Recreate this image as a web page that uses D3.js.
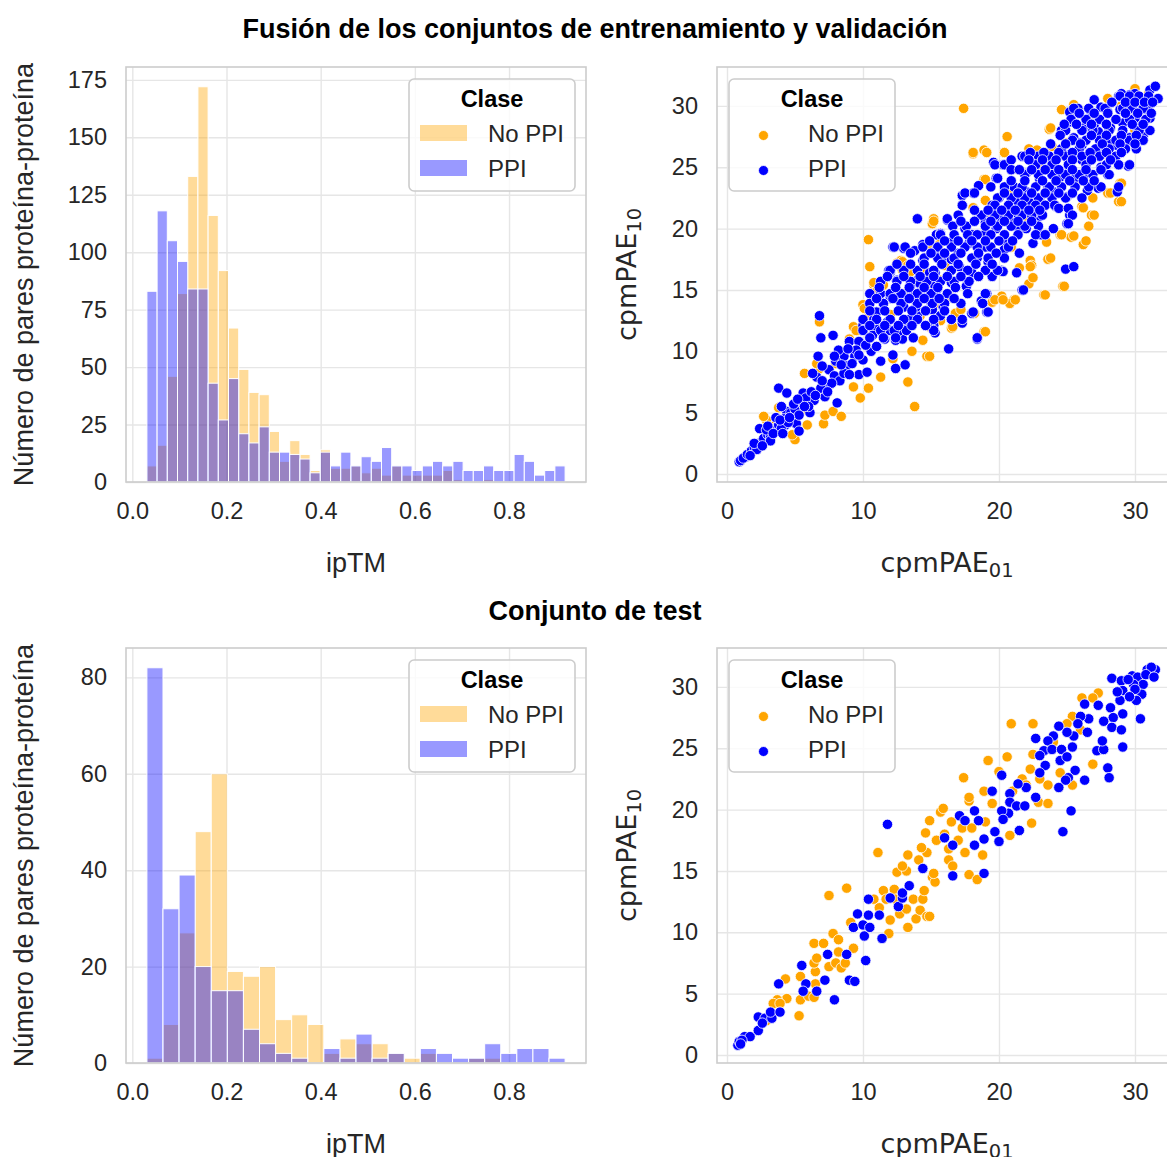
<!DOCTYPE html>
<html lang="es">
<head>
    <meta charset="UTF-8">
    <title>ipTM y cpmPAE por clase</title>
    <script src="https://d3js.org/d3.v7.min.js"></script>
    <style>
        body {
            margin: 0;
            background: #fff;
        }
        svg {
            display: block;
            font-family: "Liberation Sans", Arial, sans-serif;
        }
        .grid line {
            stroke: #e6e6e6;
            stroke-width: 1.4;
        }
        .grid text {
            font-size: 23.5px;
            fill: #262626;
        }
        .frame {
            fill: none;
            stroke: #cccccc;
            stroke-width: 1.6;
        }
        .axis-label {
            font-size: 27px;
            fill: #262626;
        }
        .math-label {
            font-family: "DejaVu Sans", sans-serif;
            font-size: 27px;
            fill: #262626;
        }
        .suptitle {
            font-size: 27px;
            font-weight: bold;
            fill: #000;
        }
        .legend-title {
            font-size: 23.5px;
            font-weight: bold;
            fill: #000;
        }
        .legend-label {
            font-size: 24px;
            fill: #262626;
        }
    </style>
</head>
<body>
<svg id="chart" width="1167" height="1157"></svg>
<script>
    // Classes
    const classes = ["No PPI", "PPI"];
    const classColors = { "No PPI": "#ffa500", "PPI": "#0000ff" };

    // Histogram bins (ipTM)
    const trainBinRange = [0.031, 0.919];
    const trainBinCount = 41;
    const testBinRange = [0.031, 0.919];
    const testBinCount = 26;

    // Counts per bin, training + validation set
    const trainNoPPI = [7, 16, 46, 82, 133, 172, 116, 92, 67, 49, 39, 38, 22, 9, 18, 12, 5, 14, 6, 6,
        7, 4, 6, 3, 7, 3, 3, 3, 3, 5, 1, 0, 0, 1, 0, 0, 0, 0, 0, 0, 0];
    const trainPPI = [83, 118, 105, 96, 84, 84, 43, 27, 45, 21, 17, 24, 13, 13, 12, 10, 4, 13, 7, 13,
        7, 11, 9, 15, 7, 7, 5, 7, 9, 7, 9, 5, 5, 7, 5, 5, 12, 9, 3, 5, 7];

    // Counts per bin, test set
    const testNoPPI = [1, 8, 27, 48, 60, 19, 18, 20, 9, 10, 8, 2, 5, 4, 4, 2, 1, 2, 0, 0, 1, 1, 0, 0, 0, 0];
    const testPPI = [82, 32, 39, 20, 15, 15, 7, 4, 2, 1, 0, 3, 1, 6, 1, 2, 0, 3, 2, 1, 1, 4, 2, 3, 3, 1];

    // Tick values
    const histXTicks = [0.0, 0.2, 0.4, 0.6, 0.8];
    const trainHistYTicks = [0, 25, 50, 75, 100, 125, 150, 175];
    const testHistYTicks = [0, 20, 40, 60, 80];
    const paeTicksX = [0, 10, 20, 30];
    const paeTicksY = [0, 5, 10, 15, 20, 25, 30];

    // cpmPAE01, cpmPAE10 pairs, training + validation set
    const trainScatterNoPPI = [
        [10.5, 16.9], [10.8, 15.4], [11.0, 14.9], [9.3, 12.0], [6.8, 12.4], [5.7, 8.2], [6.8, 8.6], [6.6, 9.0],
        [9.3, 7.1], [9.8, 6.2], [10.4, 7.0], [11.3, 7.9], [13.3, 7.5], [13.8, 5.5], [14.7, 9.6], [13.6, 10.0],
        [14.4, 10.9], [7.1, 4.1], [7.2, 4.8], [5.9, 4.0], [5.0, 2.8], [2.9, 4.4], [3.8, 5.4], [2.7, 4.7],
        [4.8, 3.2], [7.8, 5.1], [8.4, 4.7], [12.2, 9.4], [10.0, 13.8], [10.4, 13.0], [13.0, 14.7], [12.5, 17.2],
        [13.3, 17.0], [14.4, 16.5], [15.7, 15.8], [14.9, 12.0], [14.2, 12.9], [15.4, 13.9], [13.5, 16.5], [11.5, 15.4],
        [10.4, 19.1], [15.2, 20.8], [15.1, 20.4], [12.8, 17.4], [12.9, 16.6],
        [17.4, 29.8], [20.6, 27.5], [18.1, 26.1], [18.9, 26.4], [20.4, 26.2], [22.2, 26.5], [23.7, 28.1], [24.6, 29.7],
        [25.5, 30.1], [28.0, 30.6], [30.0, 31.4], [18.9, 24.0], [23.6, 17.5], [26.2, 18.7], [26.8, 21.1], [26.6, 20.2],
        [28.8, 22.2], [28.9, 23.7], [28.0, 22.9], [24.5, 19.5], [25.3, 19.3], [26.1, 21.8], [18.1, 21.7], [19.0, 22.3],
        [22.3, 17.4], [23.5, 18.9], [20.9, 18.5],
        [24.7, 15.3], [23.3, 14.6], [22.2, 15.5], [21.1, 14.2], [20.2, 14.5], [20.8, 13.9], [18.9, 11.6], [16.5, 11.9],
        [14.9, 9.6], [16.8, 13.1], [18.2, 13.1], [19.5, 14.0], [22.4, 17.0],
        [16.0, 17.0], [17.0, 19.0], [19.0, 21.0], [21.0, 23.0], [23.0, 25.0], [25.0, 27.0], [27.0, 29.0], [29.0, 30.0],
        [20.0, 19.0], [22.0, 21.0], [24.0, 22.0], [26.0, 24.0], [28.0, 26.0], [30.0, 28.0], [31.0, 31.0], [8.0, 9.0],
        [9.0, 11.0], [11.0, 12.0], [12.0, 13.0], [6.0, 6.0], [3.5, 3.9], [4.5, 4.8], [5.5, 5.2],
        [23.8, 28.2], [18.1, 26.2], [19.1, 26.2], [20.4, 26.2], [19.0, 24.0], [15.2, 20.6], [12.9, 17.3], [13.3, 17.0],
        [14.9, 18.7], [15.6, 18.7], [10.8, 15.6], [10.1, 13.5], [16.6, 12.0], [19.0, 11.6], [19.7, 14.2], [20.3, 14.2],
        [21.2, 14.2], [23.4, 14.6], [24.8, 15.3], [23.8, 17.6], [22.5, 16.0], [22.3, 16.9], [21.5, 16.8], [26.4, 19.0],
        [27.0, 21.1], [26.2, 21.7], [24.6, 19.5], [25.5, 19.4], [28.2, 22.9], [29.0, 22.2], [29.0, 23.7], [26.9, 22.5],
        [14.7, 15.0], [15.6, 13.9], [16.5, 14.4], [17.2, 13.4], [15.7, 12.5], [9.5, 11.7], [10.5, 11.2], [22.8, 26.4],
        [23.9, 26.7], [28.9, 30.8]
    ];
    const trainScatterPPI = [
        [0.9, 1.0], [1.4, 1.4], [2.3, 2.4], [2.8, 3.0], [3.3, 3.7], [2.4, 3.7], [4.3, 4.0], [5.1, 4.1], [5.3, 3.5],
        [3.8, 7.0], [4.4, 6.6], [5.6, 6.6], [6.4, 6.0], [5.3, 5.5], [6.1, 5.0], [4.4, 5.1], [6.6, 7.9], [6.8, 12.9],
        [6.9, 11.1], [7.8, 11.3], [6.7, 9.6], [7.3, 7.1], [8.1, 5.8], [7.2, 6.3], [8.6, 9.6], [8.8, 8.8], [9.0, 10.8],
        [9.7, 10.8], [8.2, 10.1], [9.4, 9.6], [9.7, 8.1], [10.3, 8.3], [10.6, 10.0], [11.3, 9.2], [11.6, 11.0],
        [12.4, 10.9], [12.2, 9.7], [12.4, 8.6], [13.1, 8.9], [10.0, 12.1], [10.8, 12.6], [11.1, 11.8], [12.0, 11.7],
        [12.9, 11.0], [13.1, 11.9], [11.0, 13.2], [11.3, 14.7], [12.0, 14.3], [12.7, 14.5], [13.5, 15.0], [14.0, 15.8],
        [14.7, 16.0], [13.8, 13.4], [14.0, 12.9], [15.1, 13.4], [15.2, 12.1], [15.3, 11.5], [12.0, 16.4], [11.9, 16.6],
        [14.9, 16.4], [9.5, 10.1], [12.5, 15.8], [13.5, 15.3], [14.2, 15.5], [15.4, 15.0], [14.0, 14.0], [15.7, 12.9],
        [13.0, 13.6], [11.5, 13.9],
        [1.0, 1.1], [1.2, 1.3], [1.5, 1.6], [1.8, 1.9], [2.0, 2.2], [2.2, 2.0], [2.5, 2.6], [2.7, 2.9], [3.0, 3.2],
        [3.2, 3.0], [3.5, 3.6], [3.8, 4.0], [4.0, 3.7], [4.2, 4.5], [4.5, 4.2], [4.7, 5.0], [5.0, 5.3], [5.3, 4.8],
        [5.5, 5.8], [5.8, 6.2], [6.0, 5.5], [6.2, 6.7], [4.0, 5.5], [3.6, 4.6], [2.9, 3.6], [3.2, 2.7], [1.7, 1.5],
        [7.5, 8.5], [7.9, 8.0], [8.3, 7.6], [7.0, 8.8], [8.0, 9.2], [8.6, 8.2], [7.7, 7.4], [6.9, 7.0], [9.2, 9.0],
        [10.0, 9.3],
        [2.0, 2.5], [2.6, 2.3], [3.0, 3.9], [3.4, 3.3], [3.9, 4.4], [4.1, 3.3], [4.6, 4.6], [4.9, 5.7], [5.2, 6.1],
        [5.7, 5.5], [6.5, 6.4], [7.0, 7.6], [7.4, 6.7], [6.3, 8.2], [7.9, 9.6], [8.4, 8.9], [9.0, 8.1], [9.7, 9.7],
        [8.9, 10.2], [10.2, 10.5], [11.0, 10.4], [10.7, 11.3], [11.8, 12.4], [12.6, 11.6], [13.4, 12.6], [13.9, 13.6],
        [14.6, 14.4], [15.0, 14.0], [14.2, 14.8],
        [14.0, 20.8], [12.2, 18.5], [13.0, 18.4], [13.8, 18.2], [14.4, 18.7], [11.9, 16.3], [14.4, 17.4], [15.4, 19.5],
        [15.4, 18.3],
        [24.9, 16.7], [25.5, 16.9], [17.3, 22.7], [18.1, 22.9], [17.3, 21.9], [19.6, 25.4], [20.3, 25.2], [21.7, 25.9],
        [22.6, 25.5], [19.8, 24.1], [19.5, 21.9], [18.8, 21.0], [16.2, 20.7], [15.7, 19.6], [16.5, 18.9], [17.8, 18.8],
        [19.0, 19.6], [19.8, 20.0], [20.4, 18.3], [21.3, 16.4], [20.2, 16.6], [17.9, 16.5], [22.5, 18.8], [23.1, 19.5],
        [25.0, 20.4], [25.2, 21.1], [24.2, 21.8], [22.3, 22.1], [21.3, 22.3], [20.6, 21.3], [21.5, 19.9], [23.6, 23.4],
        [24.5, 24.2], [25.5, 24.0], [26.3, 24.4], [27.3, 23.3], [28.0, 24.4], [28.7, 23.0], [29.5, 25.1], [26.1, 25.6],
        [27.2, 26.4], [28.6, 26.8], [29.6, 27.4], [30.6, 27.5], [30.1, 28.3], [31.1, 29.0], [30.6, 30.5], [31.1, 31.3],
        [31.5, 31.6], [31.7, 30.6], [29.6, 30.9], [28.8, 30.8], [27.5, 29.9], [26.8, 29.4], [25.2, 29.5], [25.2, 28.7],
        [24.6, 28.0], [26.2, 28.2], [28.2, 28.2], [28.9, 29.7], [29.6, 29.7], [26.1, 26.8], [25.5, 27.4], [24.6, 26.5],
        [23.5, 25.9], [27.7, 27.6], [29.1, 28.6], [30.6, 29.7], [25.2, 24.8], [23.5, 24.8], [25.0, 22.6], [26.5, 23.1],
        [28.8, 25.2], [27.3, 27.9], [21.1, 23.4], [21.4, 21.1], [22.6, 21.2], [23.0, 22.5], [18.4, 17.6], [17.1, 16.9],
        [15.8, 17.4], [15.3, 16.4], [19.2, 17.3],
        [21.7, 15.0], [18.7, 14.1], [19.1, 13.2], [18.0, 13.1], [18.4, 11.0], [16.3, 10.2], [17.3, 12.3], [15.2, 12.1],
        [15.9, 13.6], [15.3, 15.3], [19.1, 14.7], [19.5, 16.1], [20.3, 16.5], [16.5, 15.6], [17.6, 15.3], [18.0, 16.4],
        [17.0, 18.0], [18.0, 19.5], [19.0, 18.5], [20.0, 21.0], [21.0, 20.5], [22.0, 20.0], [22.0, 23.0], [23.0, 21.0],
        [24.0, 23.0], [24.0, 20.0], [19.0, 20.5], [17.5, 20.0], [16.5, 17.5], [20.5, 19.0], [21.5, 18.0], [23.0, 24.0],
        [22.0, 24.5], [20.0, 22.5], [18.5, 23.5], [25.0, 26.0], [26.0, 27.0], [27.0, 28.5], [28.0, 29.5], [29.0, 31.0],
        [30.0, 31.0], [26.5, 25.5], [27.5, 25.0], [28.0, 27.0], [29.0, 27.5], [30.0, 29.0], [31.0, 30.0], [27.0, 30.5],
        [24.0, 25.0], [25.8, 29.8],
        [28.9, 30.8], [29.6, 30.8], [30.3, 30.8], [31.0, 30.8], [25.5, 29.8], [26.6, 29.8], [27.8, 29.8], [29.1, 29.8],
        [29.8, 29.8], [30.6, 29.8], [25.3, 28.9], [26.4, 28.9], [27.4, 28.9], [28.6, 28.9], [29.6, 28.9], [30.8, 28.9],
        [24.9, 28.0], [26.1, 28.0], [26.9, 28.0], [28.1, 28.0], [29.1, 28.0], [30.3, 28.0], [31.1, 28.0], [25.4, 27.2],
        [26.4, 27.2], [27.4, 27.2], [28.6, 27.2], [29.6, 27.2], [30.6, 27.2], [24.6, 26.5], [25.9, 26.5], [27.1, 26.5],
        [28.1, 26.5], [29.3, 26.5], [30.1, 26.5], [21.9, 25.9], [22.9, 25.9], [23.7, 25.9], [24.9, 25.9], [26.1, 25.9],
        [27.4, 25.9], [28.6, 25.9], [19.7, 25.2], [20.4, 25.2], [22.7, 25.2], [23.9, 25.2], [25.1, 25.2], [26.4, 25.2],
        [27.9, 25.2], [28.8, 25.2], [29.6, 25.2], [21.9, 24.4], [22.9, 24.4], [23.9, 24.4], [24.9, 24.4], [25.9, 24.4],
        [26.9, 24.4], [28.1, 24.4], [19.9, 24.1], [19.4, 23.4], [20.4, 23.4], [21.7, 23.4], [22.7, 23.4], [23.7, 23.4],
        [24.6, 23.4], [25.6, 23.4], [26.6, 23.4], [27.5, 23.4], [28.8, 23.4], [17.5, 22.9], [18.2, 22.9], [19.9, 22.5],
        [20.9, 22.5], [21.9, 22.5], [22.9, 22.5], [23.9, 22.5], [24.9, 22.5], [26.1, 22.5], [17.3, 21.9], [19.7, 21.9],
        [20.7, 21.9], [21.7, 21.9], [22.7, 21.9], [23.4, 21.9], [24.1, 21.9], [24.4, 21.65], [25.1, 21.65], [17.0, 21.1],
        [18.7, 21.1], [19.7, 21.1], [20.7, 21.1], [21.7, 21.1], [22.4, 21.1], [23.2, 21.1], [25.4, 21.1], [14.0, 20.8],
        [16.2, 20.8], [25.1, 20.4], [16.6, 20.2], [17.6, 20.2], [19.0, 20.2], [19.9, 20.2], [20.9, 20.2], [21.9, 20.2],
        [22.9, 20.2], [15.7, 19.5], [16.7, 19.5], [17.7, 19.5], [18.4, 19.5], [19.4, 19.5], [20.4, 19.5], [21.4, 19.5],
        [22.7, 19.5], [23.4, 19.5], [12.3, 18.5], [13.1, 18.5], [14.4, 18.5], [15.5, 18.5], [16.5, 18.5], [17.5, 18.5],
        [18.4, 18.5], [19.4, 18.5], [20.7, 18.5], [14.5, 17.6], [15.5, 17.6], [16.7, 17.6], [18.0, 17.6], [19.2, 17.6],
        [20.4, 17.6], [12.0, 16.6], [13.0, 16.6], [14.0, 16.6], [15.2, 16.6], [16.5, 16.6], [17.7, 16.6], [19.0, 16.6],
        [19.9, 16.6], [11.3, 15.7], [12.5, 15.7], [13.5, 15.7], [14.7, 15.7], [15.7, 15.7], [16.7, 15.7], [17.8, 15.7],
        [10.5, 14.7], [12.0, 14.7], [12.8, 14.7], [14.0, 14.7], [15.0, 14.7], [16.2, 14.7], [17.7, 14.7], [19.0, 14.7],
        [21.8, 15.0], [10.5, 13.9], [11.5, 13.9], [12.8, 13.9], [14.0, 13.9], [15.1, 13.9], [16.0, 13.9], [17.2, 13.9],
        [18.8, 13.9], [19.2, 13.2], [18.1, 13.2], [10.0, 12.6], [11.0, 12.6], [12.0, 12.6], [13.0, 12.6], [14.0, 12.6],
        [15.2, 12.6], [16.5, 12.6], [17.3, 12.6], [10.0, 11.7], [11.3, 11.7], [12.3, 11.7], [13.2, 11.7], [15.2, 11.7],
        [10.5, 11.1], [11.5, 11.1], [12.4, 11.1], [13.7, 11.1], [18.4, 11.1],
        [28.3, 30.3], [29.3, 30.3], [30.0, 30.3], [30.7, 30.3], [31.3, 30.3], [25.9, 29.4], [27.0, 29.4], [28.0, 29.4],
        [29.3, 29.4], [30.2, 29.4], [31.2, 29.4], [24.8, 28.5], [25.7, 28.5], [26.8, 28.5], [27.9, 28.5], [29.8, 28.5],
        [30.6, 28.5], [24.5, 27.6], [26.8, 27.6], [27.9, 27.6], [29.0, 27.6], [30.1, 27.6], [23.8, 26.9], [24.9, 26.9],
        [26.0, 26.9], [27.6, 26.9], [28.9, 26.9], [30.0, 26.9], [22.3, 26.2], [23.3, 26.2], [24.4, 26.2], [25.4, 26.2],
        [26.7, 26.2], [27.9, 26.2], [29.0, 26.2], [20.9, 25.6], [22.2, 25.6], [23.2, 25.6], [24.2, 25.6], [25.4, 25.6],
        [26.8, 25.6], [28.2, 25.6], [20.9, 24.8], [21.5, 24.8], [22.4, 24.8], [23.4, 24.8], [24.4, 24.8], [25.4, 24.8],
        [26.4, 24.8], [27.5, 24.8], [20.9, 23.9], [21.9, 23.9], [23.2, 23.9], [24.2, 23.9], [25.2, 23.9], [26.2, 23.9],
        [27.0, 23.9], [20.4, 22.9], [21.4, 22.9], [22.4, 22.9], [23.4, 22.9], [24.4, 22.9], [25.4, 22.9], [18.2, 21.5],
        [19.2, 21.5], [20.2, 21.5], [21.2, 21.5], [22.2, 21.5], [23.0, 21.5], [17.2, 20.6], [18.2, 20.6], [19.4, 20.6],
        [20.4, 20.6], [21.4, 20.6], [22.4, 20.6], [14.9, 19.0], [16.0, 19.0], [17.0, 19.0], [18.0, 19.0], [19.0, 19.0],
        [20.0, 19.0], [21.0, 19.0], [13.5, 18.0], [15.0, 18.0], [16.0, 18.0], [17.2, 18.0], [18.5, 18.0], [19.8, 18.0],
        [12.5, 17.1], [13.5, 17.1], [14.5, 17.1], [15.8, 17.1], [17.0, 17.1], [18.3, 17.1], [19.5, 17.1], [11.8, 16.1],
        [13.0, 16.1], [14.2, 16.1], [15.2, 16.1], [16.2, 16.1], [17.2, 16.1], [18.5, 16.1], [11.2, 15.2], [12.4, 15.2],
        [13.4, 15.2], [14.5, 15.2], [15.5, 15.2], [16.8, 15.2], [11.0, 14.3], [12.2, 14.3], [13.4, 14.3], [14.5, 14.3],
        [15.6, 14.3], [16.7, 14.3], [10.5, 13.3], [11.6, 13.3], [12.6, 13.3], [13.6, 13.3], [14.6, 13.3], [16.0, 13.3],
        [10.5, 12.1], [11.6, 12.1], [12.6, 12.1], [13.6, 12.1], [14.6, 12.1]
    ];

    // cpmPAE01, cpmPAE10 pairs, test set
    const testScatterNoPPI = [
        [7.5, 13.0], [8.8, 13.6], [11.1, 16.5], [5.3, 3.2], [4.3, 6.2], [4.4, 4.6], [3.7, 4.5], [3.4, 4.2], [5.4, 6.4],
        [5.4, 4.5], [6.0, 4.8], [6.4, 4.7], [6.5, 6.8], [6.4, 7.5], [6.6, 7.9], [6.4, 9.1], [7.1, 9.1], [7.8, 9.9],
        [8.2, 9.4], [8.2, 8.4], [7.5, 7.2], [8.0, 7.5], [8.4, 7.1], [8.7, 7.5], [6.5, 5.8], [9.3, 8.7], [9.1, 10.8],
        [10.8, 12.7], [11.2, 12.0], [11.5, 13.4], [11.7, 12.7], [12.3, 13.5], [12.0, 11.0], [11.9, 9.9], [12.4, 12.7],
        [12.7, 11.5], [13.2, 11.9], [13.3, 10.4], [13.7, 12.7], [13.9, 11.1], [14.2, 11.8], [14.4, 12.7], [14.7, 11.3],
        [14.5, 13.4], [12.5, 14.9], [13.2, 15.0], [12.9, 15.4], [13.3, 16.3], [14.1, 15.9], [14.7, 16.5], [14.3, 16.9],
        [14.6, 18.1], [14.9, 19.1], [15.4, 17.5], [15.7, 19.8], [15.1, 14.5], [15.3, 14.1], [2.9, 2.8], [3.9, 4.2],
        [20.9, 27.0], [22.5, 27.0], [26.1, 29.1], [27.3, 29.5], [25.4, 27.6], [26.9, 23.7], [20.6, 24.3], [19.2, 24.0],
        [17.4, 22.6], [20.0, 23.1], [22.3, 23.3], [23.6, 22.0], [25.4, 22.0], [22.4, 18.9], [20.8, 17.9], [22.9, 20.6],
        [23.6, 20.5], [18.9, 21.5], [17.8, 20.7], [15.9, 20.1], [16.3, 16.8], [16.3, 15.9], [16.6, 15.4], [17.3, 18.5],
        [17.8, 14.7], [18.4, 14.3], [18.8, 16.3], [14.9, 11.3], [15.2, 14.8], [17.8, 21.0], [21.7, 22.5], [26.9, 29.1],
        [16.5, 19.0], [17.0, 17.5], [18.0, 18.5], [19.0, 19.0], [19.5, 20.5], [16.0, 18.0], [17.5, 16.5], [21.0, 21.5],
        [22.0, 22.0], [23.0, 22.5], [24.0, 25.5], [25.0, 27.0], [26.0, 26.5], [24.5, 23.0], [22.5, 24.5]
    ];
    const testScatterPPI = [
        [0.8, 0.8], [0.9, 1.1], [1.3, 1.5], [1.7, 1.5], [2.3, 2.0], [2.3, 3.1], [2.8, 3.0], [3.3, 3.0], [3.2, 3.5],
        [3.9, 3.5], [3.8, 5.8], [5.5, 7.3], [5.8, 5.8], [5.6, 5.2], [6.6, 5.2], [7.2, 6.1], [7.9, 4.5], [7.4, 8.2],
        [8.8, 8.2], [9.0, 6.1], [9.4, 6.0], [10.2, 7.7], [9.3, 10.4], [9.6, 11.5], [10.0, 10.6], [10.1, 9.7],
        [10.4, 11.4], [10.5, 10.4], [10.4, 12.7], [11.2, 11.4], [11.4, 9.5], [11.8, 18.8], [12.0, 12.8], [12.6, 12.1],
        [12.9, 12.8], [12.9, 13.2], [13.4, 13.8], [14.4, 15.2], [1.1, 1.2], [1.0, 0.9], [2.6, 2.6],
        [28.3, 30.7], [29.0, 30.5], [29.8, 30.9], [30.2, 30.8], [30.9, 31.4], [31.5, 31.4], [31.1, 31.0], [30.6, 30.2],
        [29.9, 30.2], [29.1, 29.7], [30.5, 29.4], [30.1, 28.9], [28.9, 28.9], [28.2, 28.3], [27.3, 28.5], [29.1, 27.8],
        [28.4, 27.5], [30.4, 27.4], [27.7, 27.2], [28.3, 26.7], [29.0, 26.5], [29.1, 25.1], [26.6, 27.4], [26.3, 28.6],
        [26.0, 27.6], [25.8, 27.0], [26.5, 26.3], [25.5, 26.0], [25.0, 26.3], [24.4, 26.8], [24.0, 26.0], [22.7, 25.8],
        [23.6, 25.6], [23.3, 24.8], [23.9, 24.9], [24.6, 24.9], [25.4, 25.1], [24.5, 24.0], [25.0, 24.3], [23.0, 24.4],
        [23.4, 23.6], [23.0, 23.0], [27.2, 24.8], [27.7, 24.9], [27.6, 25.6], [28.0, 23.4], [28.1, 22.6], [26.3, 22.4],
        [25.6, 23.2], [25.1, 22.6], [24.9, 22.4], [24.4, 21.8], [25.3, 19.9], [24.7, 18.2], [22.7, 21.0], [22.0, 21.8],
        [21.4, 22.1], [20.8, 21.3], [20.2, 22.8], [19.5, 21.5], [20.8, 20.6], [21.3, 20.3], [21.9, 20.3], [20.7, 19.7],
        [20.2, 19.9], [20.3, 19.2], [21.5, 18.3], [18.2, 19.9], [18.5, 19.1], [17.1, 19.5], [17.5, 19.1], [19.7, 18.2],
        [20.0, 17.4], [18.9, 17.6], [18.2, 17.1], [16.6, 17.1], [16.0, 17.7], [16.6, 14.6], [18.9, 14.8],
        [31.2, 31.6], [30.8, 31.0], [29.5, 30.6], [30.0, 29.8], [29.6, 29.2], [28.7, 29.6], [31.4, 30.8]
    ];

    // Layout
    const svg = d3.select("#chart");
    const panelW = 460, panelH = 415;
    const colLeft = { hist: 126, scatter: 717 };
    const rowTop = [67, 648];

    function binEdges(range, count) {
        const w = (range[1] - range[0]) / count;
        return d3.range(count).map(i => [range[0] + i * w, range[0] + (i + 1) * w]);
    }

    function drawGrid(g, x, y, xTicks, yTicks, xFmt) {
        g.append("g")
            .attr("class", "grid")
            .attr("transform", `translate(0,${panelH})`)
            .call(d3.axisBottom(x).tickValues(xTicks).tickSize(-panelH).tickPadding(20).tickFormat(xFmt))
            .call(a => a.select(".domain").remove());
        g.append("g")
            .attr("class", "grid")
            .call(d3.axisLeft(y).tickValues(yTicks).tickSize(-panelW).tickPadding(19).tickFormat(d3.format("d")))
            .call(a => a.select(".domain").remove());
    }

    function drawLegendBox(g, x0, y0) {
        const lg = g.append("g").attr("transform", `translate(${x0},${y0})`);
        lg.append("rect")
            .attr("width", 166).attr("height", 112)
            .attr("rx", 5)
            .attr("fill", "#fff").attr("fill-opacity", 0.8)
            .attr("stroke", "#cccccc").attr("stroke-width", 1.6);
        lg.append("text")
            .attr("class", "legend-title")
            .attr("x", 83).attr("y", 27.5)
            .attr("text-anchor", "middle")
            .text("Clase");
        return lg;
    }

    function drawHist(top, noPPI, ppi, binRange, binCount, yTicks) {
        const g = svg.append("g").attr("transform", `translate(${colLeft.hist},${top})`);
        const span = binRange[1] - binRange[0];
        const x = d3.scaleLinear()
            .domain([binRange[0] - 0.05 * span, binRange[1] + 0.05 * span])
            .range([0, panelW]);
        const yMax = d3.max(noPPI.concat(ppi)) * 1.05;
        const y = d3.scaleLinear().domain([0, yMax]).range([panelH, 0]);

        drawGrid(g, x, y, histXTicks, yTicks, d3.format(".1f"));

        const edges = binEdges(binRange, binCount);
        [["No PPI", noPPI], ["PPI", ppi]].forEach(([cls, counts]) => {
            g.append("g")
                .selectAll("rect")
                .data(counts.map((c, i) => ({ c, e: edges[i] })).filter(d => d.c > 0))
                .join("rect")
                .attr("x", d => x(d.e[0]))
                .attr("width", d => x(d.e[1]) - x(d.e[0]))
                .attr("y", d => y(d.c))
                .attr("height", d => y(0) - y(d.c))
                .attr("fill", classColors[cls])
                .attr("fill-opacity", 0.4)
                .attr("stroke", "#fff")
                .attr("stroke-width", 1);
        });

        g.append("rect").attr("class", "frame").attr("width", panelW).attr("height", panelH);

        // Axis labels
        g.append("text")
            .attr("class", "axis-label")
            .attr("x", panelW / 2).attr("y", panelH + 90)
            .attr("text-anchor", "middle")
            .text("ipTM");
        g.append("text")
            .attr("class", "axis-label")
            .attr("transform", `translate(${33 - colLeft.hist},${panelH / 2}) rotate(-90)`)
            .attr("text-anchor", "middle")
            .text("Número de pares proteína-proteína");

        // Legend
        const lg = drawLegendBox(g, 283, 12);
        classes.forEach((cls, i) => {
            lg.append("rect")
                .attr("x", 11).attr("y", 46 + i * 35)
                .attr("width", 47).attr("height", 16)
                .attr("fill", classColors[cls]).attr("fill-opacity", 0.4);
            lg.append("text")
                .attr("class", "legend-label")
                .attr("x", 79).attr("y", 62.5 + i * 35)
                .text(cls);
        });
    }

    function subLabel(text, main, sub) {
        text.append("tspan").text(main);
        text.append("tspan").attr("font-size", "0.72em").attr("dy", "0.25em").text(sub);
    }

    function drawScatter(top, noPPI, ppi, idx) {
        const g = svg.append("g").attr("transform", `translate(${colLeft.scatter},${top})`);
        const x = d3.scaleLinear().domain([-0.735, 33.09]).range([0, panelW]);
        const y = d3.scaleLinear().domain([-0.65, 33.17]).range([panelH, 0]);

        drawGrid(g, x, y, paeTicksX, paeTicksY, d3.format("d"));

        g.append("clipPath").attr("id", "clip" + idx)
            .append("rect").attr("width", panelW).attr("height", panelH);

        const pts = g.append("g").attr("clip-path", `url(#clip${idx})`);
        [["No PPI", noPPI], ["PPI", ppi]].forEach(([cls, data]) => {
            pts.append("g")
                .selectAll("circle")
                .data(data)
                .join("circle")
                .attr("cx", d => x(d[0]))
                .attr("cy", d => y(d[1]))
                .attr("r", 5.2)
                .attr("fill", classColors[cls])
                .attr("stroke", "#fff")
                .attr("stroke-width", 0.8);
        });

        g.append("rect").attr("class", "frame").attr("width", panelW).attr("height", panelH);

        g.append("text")
            .attr("class", "math-label")
            .attr("x", panelW / 2).attr("y", panelH + 90)
            .attr("text-anchor", "middle")
            .call(t => subLabel(t, "cpmPAE", "01"));
        g.append("text")
            .attr("class", "math-label")
            .attr("transform", `translate(${636 - colLeft.scatter},${panelH / 2}) rotate(-90)`)
            .attr("text-anchor", "middle")
            .call(t => subLabel(t, "cpmPAE", "10"));

        const lg = drawLegendBox(g, 12, 12);
        classes.forEach((cls, i) => {
            lg.append("circle")
                .attr("cx", 34.5).attr("cy", 56.5 + i * 35)
                .attr("r", 5)
                .attr("fill", classColors[cls])
                .attr("stroke", "#fff").attr("stroke-width", 0.8);
            lg.append("text")
                .attr("class", "legend-label")
                .attr("x", 79).attr("y", 62.5 + i * 35)
                .text(cls);
        });
    }

    // Titles
    svg.append("text")
        .attr("class", "suptitle")
        .attr("x", 595).attr("y", 38)
        .attr("text-anchor", "middle")
        .text("Fusión de los conjuntos de entrenamiento y validación");
    svg.append("text")
        .attr("class", "suptitle")
        .attr("x", 595).attr("y", 620)
        .attr("text-anchor", "middle")
        .text("Conjunto de test");

    drawHist(rowTop[0], trainNoPPI, trainPPI, trainBinRange, trainBinCount, trainHistYTicks);
    drawScatter(rowTop[0], trainScatterNoPPI, trainScatterPPI, 0);
    drawHist(rowTop[1], testNoPPI, testPPI, testBinRange, testBinCount, testHistYTicks);
    drawScatter(rowTop[1], testScatterNoPPI, testScatterPPI, 1);
</script>
</body>
</html>
